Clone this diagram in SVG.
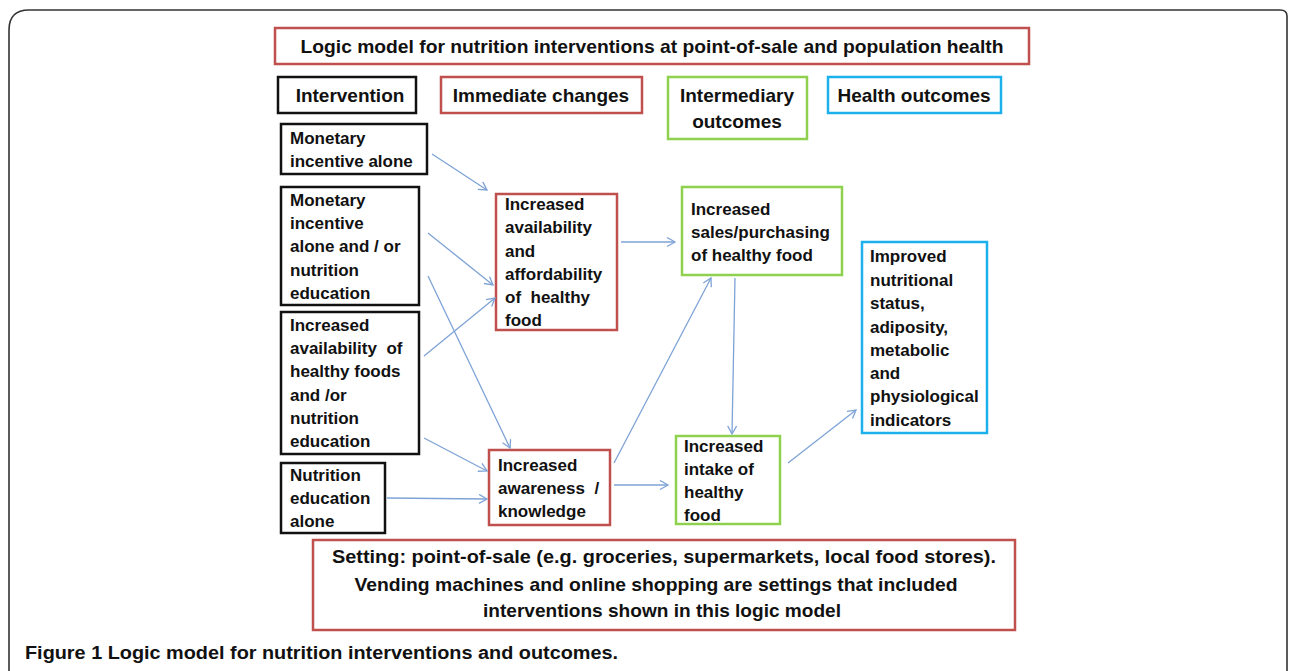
<svg xmlns="http://www.w3.org/2000/svg" width="1290" height="671" viewBox="0 0 1290 671">
<defs>
<style>
text{font-family:"Liberation Sans",Arial,sans-serif;font-weight:bold;fill:#111}
.b{font-size:17px}
.h{font-size:19px}
.box{fill:#fff;stroke-width:2.5}
.blk{stroke:#111}
.red{stroke:#c0504d}
.grn{stroke:#8fd14f}
.blu{stroke:#1cb0ec}
.c{text-anchor:middle}
#connectors line{stroke:#7ea3d6;stroke-width:1.3;fill:none;marker-end:url(#ah)}
</style>
<marker id="ah" markerWidth="12" markerHeight="12" refX="9" refY="5" orient="auto" markerUnits="userSpaceOnUse">
<path d="M1,0.5 L9,5 L1,9.5" fill="none" stroke="#7ea3d6" stroke-width="1.3"/>
</marker>
</defs>
<rect width="1290" height="671" fill="#fff"/>
<path d="M9,680 L9,30 Q9,10 29,10 L1280,10 Q1287,10 1287,16 L1287,680" fill="none" stroke="#333" stroke-width="1.6"/>

<g id="title"><rect class="box red" x="275" y="28" width="754" height="36"/>
<text class="h c" x="652" y="53" textLength="703" lengthAdjust="spacingAndGlyphs">Logic model for nutrition interventions at point-of-sale and population health</text></g>

<g id="hdr-intervention"><rect class="box blk" x="278" y="77" width="138" height="36"/><text class="h c" x="350" y="102">Intervention</text></g>
<g id="hdr-immediate"><rect class="box red" x="441" y="77" width="201" height="36"/><text class="h c" x="541" y="102">Immediate changes</text></g>
<g id="hdr-intermediary"><rect class="box grn" x="668" y="77" width="139" height="62"/><text class="h c" x="737" y="102">Intermediary</text><text class="h c" x="737" y="128">outcomes</text></g>
<g id="hdr-health"><rect class="box blu" x="828" y="77" width="173" height="36"/><text class="h c" x="914" y="102">Health outcomes</text></g>

<g id="n-monetary"><rect class="box blk" x="281" y="124" width="146" height="50"/>
<text class="b" x="290" y="144">Monetary</text><text class="b" x="290" y="167">incentive alone</text></g>

<g id="n-monetary-or"><rect class="box blk" x="281" y="187" width="138" height="118"/>
<text class="b" x="290" y="206">Monetary</text><text class="b" x="290" y="229">incentive</text><text class="b" x="290" y="252">alone and / or</text><text class="b" x="290" y="276">nutrition</text><text class="b" x="290" y="299">education</text></g>

<g id="n-availability"><rect class="box blk" x="281" y="312" width="138" height="142"/>
<text class="b" x="290" y="331">Increased</text><text class="b" x="290" y="354" xml:space="preserve">availability  of</text><text class="b" x="290" y="377">healthy foods</text><text class="b" x="290" y="401">and /or</text><text class="b" x="290" y="424">nutrition</text><text class="b" x="290" y="447">education</text></g>

<g id="n-nutrition"><rect class="box blk" x="281" y="463" width="104" height="70"/>
<text class="b" x="290" y="481">Nutrition</text><text class="b" x="290" y="504">education</text><text class="b" x="290" y="527">alone</text></g>

<g id="n-avail-afford"><rect class="box red" x="496" y="194" width="121" height="136"/>
<text class="b" x="505" y="210">Increased</text><text class="b" x="505" y="233">availability</text><text class="b" x="505" y="257">and</text><text class="b" x="505" y="280">affordability</text><text class="b" x="505" y="303" xml:space="preserve">of  healthy</text><text class="b" x="505" y="326">food</text></g>

<g id="n-awareness"><rect class="box red" x="489" y="450" width="121" height="75"/>
<text class="b" x="498" y="471">Increased</text><text class="b" x="498" y="494" xml:space="preserve">awareness  /</text><text class="b" x="498" y="517">knowledge</text></g>

<g id="n-sales"><rect class="box grn" x="682" y="187" width="160" height="88"/>
<text class="b" x="691" y="215">Increased</text><text class="b" x="691" y="238">sales/purchasing</text><text class="b" x="691" y="261">of healthy food</text></g>

<g id="n-intake"><rect class="box grn" x="676" y="436" width="104" height="88"/>
<text class="b" x="684" y="452">Increased</text><text class="b" x="684" y="475">intake of</text><text class="b" x="684" y="498">healthy</text><text class="b" x="684" y="521">food</text></g>

<g id="n-improved"><rect class="box blu" x="862" y="242" width="125" height="191"/>
<text class="b" x="870" y="262">Improved</text><text class="b" x="870" y="286">nutritional</text><text class="b" x="870" y="309">status,</text><text class="b" x="870" y="333">adiposity,</text><text class="b" x="870" y="356">metabolic</text><text class="b" x="870" y="379">and</text><text class="b" x="870" y="402">physiological</text><text class="b" x="870" y="426">indicators</text></g>

<g id="n-setting"><rect class="box red" x="313" y="540" width="702" height="90"/>
<text class="h c" x="664" y="563" textLength="664" lengthAdjust="spacingAndGlyphs">Setting: point-of-sale (e.g. groceries, supermarkets, local food stores).</text>
<text class="h c" x="656" y="591" textLength="603" lengthAdjust="spacingAndGlyphs">Vending machines and online shopping are settings that included</text>
<text class="h c" x="662" y="617" textLength="358" lengthAdjust="spacingAndGlyphs">interventions shown in this logic model</text></g>

<g id="connectors">
<line x1="432" y1="154" x2="487" y2="190"/>
<line x1="428" y1="233" x2="493" y2="285"/>
<line x1="424" y1="356" x2="495" y2="298"/>
<line x1="428" y1="276" x2="510" y2="448"/>
<line x1="424" y1="438" x2="487" y2="471"/>
<line x1="387" y1="498" x2="487" y2="499"/>
<line x1="621" y1="242" x2="675" y2="242"/>
<line x1="614" y1="463" x2="711" y2="278"/>
<line x1="614" y1="485" x2="668" y2="485"/>
<line x1="735" y1="278" x2="732" y2="434"/>
<line x1="788" y1="463" x2="856" y2="410"/>
</g>

<text id="caption" x="25" y="659" style="font-size:18px" textLength="593" lengthAdjust="spacingAndGlyphs">Figure 1 Logic model for nutrition interventions and outcomes.</text>
</svg>
